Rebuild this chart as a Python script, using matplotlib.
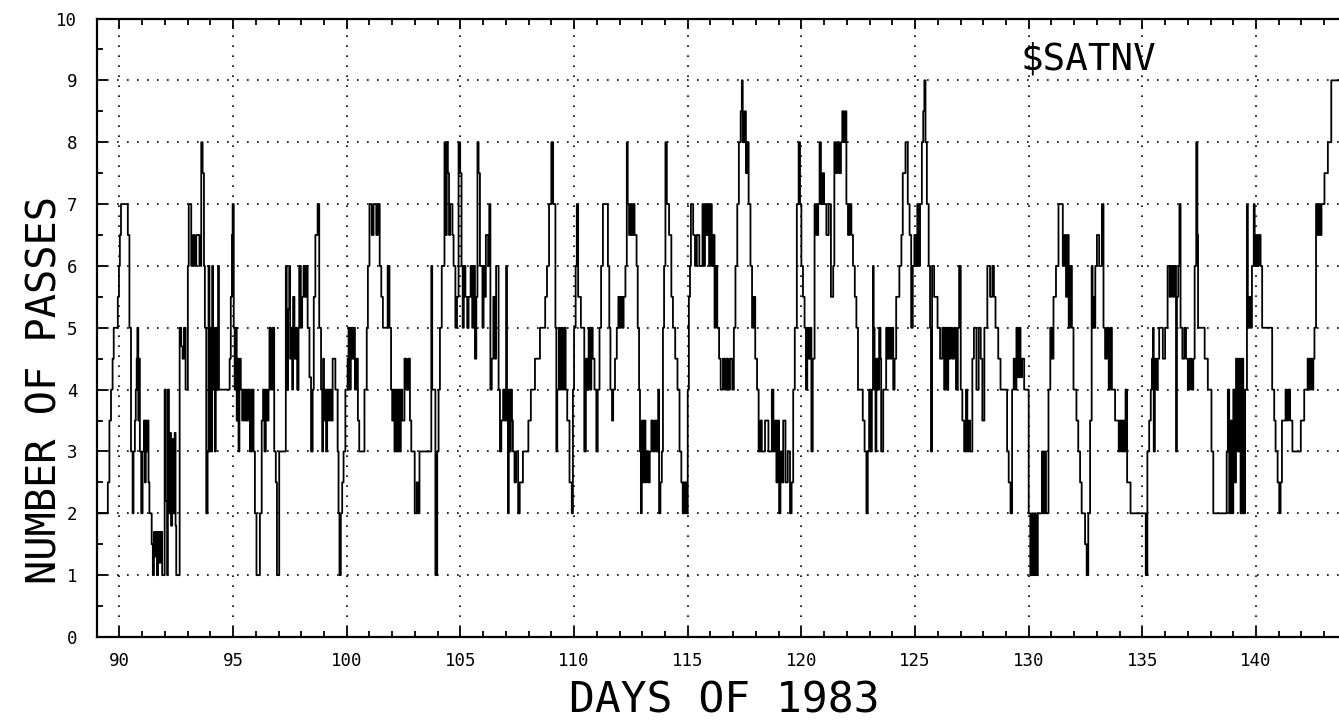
import matplotlib
matplotlib.use("Agg")
import matplotlib.pyplot as plt
from matplotlib.ticker import MultipleLocator

# -----------------------------
# Data (step changes: day of 1983 -> number of passes)
# -----------------------------

day = [
    89.00, 89.49, 89.56, 89.63, 89.70, 89.75, 89.93, 89.98, 90.02, 90.07, 90.37, 90.44, 90.51, 90.58, 90.62,
    90.68, 90.72, 90.76, 90.79, 90.83, 90.86, 90.90, 90.96, 91.02, 91.08, 91.12, 91.16, 91.20, 91.24, 91.28,
    91.32, 91.42, 91.47, 91.52, 91.56, 91.60, 91.65, 91.70, 91.75, 91.80, 91.88, 91.99, 92.04, 92.10, 92.13,
    92.18, 92.22, 92.27, 92.32, 92.38, 92.43, 92.47, 92.50, 92.65, 92.72, 92.78, 92.84, 92.91, 93.01, 93.05,
    93.16, 93.24, 93.30, 93.38, 93.52, 93.60, 93.66, 93.72, 93.76, 93.82, 93.88, 93.92, 93.96, 94.00, 94.04,
    94.08, 94.12, 94.16, 94.20, 94.24, 94.30, 94.34, 94.38, 94.85, 94.90, 94.95, 94.98, 95.03, 95.07, 95.12,
    95.16, 95.20, 95.24, 95.28, 95.34, 95.40, 95.44, 95.50, 95.55, 95.60, 95.66, 95.74, 95.82, 95.90, 95.96,
    96.03, 96.18, 96.26, 96.32, 96.38, 96.44, 96.50, 96.56, 96.60, 96.66, 96.74, 96.81, 96.88, 96.93, 97.03,
    # 97 - 104
    97.32, 97.36, 97.42, 97.47, 97.51, 97.56, 97.60, 97.64, 97.70, 97.76, 97.82, 97.88, 97.91, 97.98, 98.04,
    98.10, 98.16, 98.22, 98.28, 98.36, 98.43, 98.50, 98.55, 98.62, 98.72, 98.79, 98.87, 98.92, 98.96, 99.00,
    99.04, 99.09, 99.14, 99.20, 99.26, 99.32, 99.38, 99.50, 99.60, 99.64, 99.68, 99.74, 99.80, 99.86, 99.94,
    100.04, 100.08, 100.12, 100.18, 100.24, 100.30, 100.36, 100.42, 100.49, 100.55, 100.78, 100.88, 100.93,
    101.00, 101.10, 101.18, 101.30, 101.37, 101.45, 101.52, 101.59, 101.80, 101.88, 101.95, 102.00, 102.05,
    102.10, 102.15, 102.20, 102.26, 102.32, 102.38, 102.44, 102.54, 102.62, 102.70, 102.78, 102.84, 102.99,
    103.08, 103.14, 103.20, 103.72, 103.76, 103.90, 103.98, 104.04,
    # 104 - 112
    104.10, 104.18, 104.30, 104.36, 104.40, 104.45, 104.50, 104.55, 104.65, 104.70, 104.78, 104.85, 104.92,
    104.99, 105.05, 105.10, 105.15, 105.22, 105.30, 105.36, 105.45, 105.52, 105.58, 105.64, 105.70, 105.75,
    105.80, 105.86, 105.97, 106.02, 106.08, 106.12, 106.22, 106.27, 106.32, 106.38, 106.45, 106.52, 106.57,
    106.68, 106.74, 106.80, 106.88, 106.95, 107.01, 107.05, 107.09, 107.13, 107.18, 107.22, 107.27, 107.31,
    107.38, 107.45, 107.54, 107.61, 107.75, 107.99, 108.10, 108.28, 108.50, 108.73, 108.81, 108.90, 109.00,
    109.08, 109.18, 109.22, 109.26, 109.33, 109.38, 109.44, 109.50, 109.56, 109.63, 109.70, 109.80, 109.90,
    109.95, 110.00, 110.07, 110.12, 110.18, 110.30, 110.45, 110.52, 110.58, 110.64, 110.70, 110.76, 110.82,
    110.90, 110.98, 111.04, 111.12, 111.19, 111.27, 111.49, 111.55, 111.60, 111.67, 111.72, 111.80, 111.88,
    111.95, 112.00, 112.06, 112.12, 112.18, 112.26,
    # 112 - 122.5
    112.32, 112.36, 112.42, 112.48, 112.54, 112.60, 112.66, 112.75, 112.80, 112.86, 112.90, 112.94, 112.98,
    113.03, 113.08, 113.14, 113.19, 113.26, 113.33, 113.40, 113.48, 113.55, 113.62, 113.70, 113.74, 113.80,
    113.86, 113.91, 113.96, 114.02, 114.08, 114.18, 114.28, 114.35, 114.45, 114.55, 114.64, 114.72, 114.78,
    114.82, 114.86, 114.90, 114.95, 115.00, 115.05, 115.10, 115.14, 115.24, 115.32, 115.40, 115.51, 115.65,
    115.70, 115.76, 115.82, 115.88, 115.94, 116.00, 116.06, 116.12, 116.18, 116.23, 116.30, 116.38, 116.45,
    116.55, 116.62, 116.70, 116.78, 116.86, 116.96, 117.03, 117.10, 117.18, 117.25, 117.33, 117.38, 117.42,
    117.50, 117.56, 117.62, 117.68, 117.76, 117.83, 117.90, 117.97, 118.05, 118.12, 118.20, 118.26, 118.40,
    118.55, 118.70, 118.77, 118.84, 118.90, 118.96, 119.02, 119.08, 119.14, 119.20, 119.30, 119.40, 119.50,
    119.57, 119.64, 119.71, 119.80, 119.88, 119.94, 120.00, 120.07, 120.14, 120.20, 120.26, 120.32, 120.38,
    120.44, 120.50, 120.58, 120.66, 120.74, 120.80, 120.86, 120.94, 121.00, 121.10, 121.20, 121.30, 121.40,
    121.45, 121.52, 121.58, 121.66, 121.74, 121.80, 121.86, 121.91, 121.98, 122.05, 122.12, 122.20, 122.27,
    122.35, 122.42, 122.49,
    # 122.5 - 132.7
    122.70, 122.78, 122.86, 122.92, 122.98, 123.04, 123.10, 123.15, 123.18, 123.22, 123.26, 123.30, 123.36,
    123.42, 123.48, 123.51, 123.60, 123.73, 123.78, 123.84, 123.90, 123.96, 124.04, 124.10, 124.17, 124.31,
    124.40, 124.46, 124.58, 124.68, 124.76, 124.83, 124.90, 124.97, 125.04, 125.10, 125.16, 125.22, 125.30,
    125.36, 125.41, 125.46, 125.52, 125.60, 125.66, 125.70, 125.75, 125.84, 125.99, 126.10, 126.20, 126.28,
    126.34, 126.40, 126.46, 126.52, 126.57, 126.64, 126.72, 126.80, 126.88, 126.94, 127.01, 127.08, 127.16,
    127.24, 127.30, 127.36, 127.42, 127.52, 127.59, 127.70, 127.80, 127.89, 127.96, 128.05, 128.18, 128.30,
    128.40, 128.47, 128.54, 128.66, 128.76, 129.05, 129.12, 129.20, 129.27, 129.34, 129.40, 129.46, 129.52,
    129.58, 129.64, 129.71, 129.80, 130.00, 130.07, 130.14, 130.20, 130.26, 130.32, 130.40, 130.58, 130.64,
    130.70, 130.76, 130.87, 130.95, 131.02, 131.09, 131.20, 131.31, 131.50, 131.58, 131.64, 131.70, 131.76,
    131.82, 131.90, 131.97, 132.10, 132.18, 132.26, 132.33, 132.48, 132.55, 132.62, 132.70,
    # 132.7 - end
    132.77, 132.81, 132.85, 132.89, 132.93, 133.00, 133.10, 133.22, 133.29, 133.36, 133.44, 133.52, 133.60,
    133.66, 133.80, 133.96, 134.02, 134.08, 134.14, 134.20, 134.26, 134.33, 134.48, 135.15, 135.22, 135.30,
    135.37, 135.42, 135.47, 135.50, 135.55, 135.62, 135.68, 135.74, 135.90, 136.00, 136.11, 136.20, 136.26,
    136.34, 136.40, 136.48, 136.52, 136.58, 136.63, 136.68, 136.76, 136.85, 136.92, 137.00, 137.08, 137.16,
    137.24, 137.30, 137.37, 137.42, 137.45, 137.74, 137.88, 138.04, 138.12, 138.71, 138.76, 138.82, 138.88,
    138.94, 139.00, 139.06, 139.12, 139.20, 139.26, 139.32, 139.38, 139.44, 139.52, 139.60, 139.64, 139.70,
    139.76, 139.82, 139.90, 139.94, 140.00, 140.06, 140.12, 140.20, 140.27, 140.71, 140.80, 140.86, 140.95,
    141.02, 141.08, 141.14, 141.30, 141.36, 141.42, 141.50, 141.60, 141.97, 142.12, 142.27, 142.34, 142.40,
    142.46, 142.52, 142.57, 142.64, 142.70, 142.76, 142.82, 142.88, 143.01, 143.16, 143.31, 143.70,
]

npass = [
    2, 2.5, 3.5, 4, 4.5, 5, 5.5, 6, 6.5, 7, 6.5, 5, 3, 2, 3,
    3.5, 4, 4.5, 5, 3.5, 4.5, 3, 2, 3, 3.5, 2.5, 3.5, 3, 3.5, 2.5,
    2, 1.5, 1, 1.7, 1.3, 1.7, 1, 1.7, 1.2, 1.7, 1, 4, 2.2, 1, 4,
    2, 3.3, 1.8, 3.2, 2, 3.3, 1.8, 1, 5, 4.7, 4.5, 5, 4, 6, 7,
    6, 6.5, 6, 6.5, 6, 8, 7.5, 6, 5, 2, 3, 6, 3, 5, 3,
    6, 4, 5, 3, 5, 4, 6, 4, 4.5, 5.5, 6.5, 7, 5, 4, 5,
    3.5, 4.5, 3, 4.5, 4, 3.5, 4, 3.5, 4, 3.5, 4, 3, 4, 3, 2,
    1, 2, 3.5, 4, 3, 4, 3.5, 4, 5, 4, 5, 3, 2.5, 1, 3,
    # 97 - 104
    6, 4, 5.3, 6, 4.5, 5, 4, 5.5, 4.5, 5, 4, 5, 6, 5, 5.5,
    6, 5.5, 6, 5, 4.2, 3, 4, 5.5, 6.5, 7, 5, 4, 3, 4.5, 3.5,
    4, 3, 4, 3.5, 4, 3.5, 4.5, 4, 3, 2, 1, 2, 2.5, 3, 4,
    4.5, 5, 4, 5, 4.5, 5, 4, 4.5, 3.5, 3, 4, 5, 6,
    7, 6.5, 7, 6.5, 7, 6, 5.5, 5, 6, 5, 4, 3.5, 4,
    3, 4, 3, 4, 3, 4, 3.5, 4.5, 4, 4.5, 3.5, 3, 2,
    2.5, 2, 3, 6, 4, 1, 3, 4,
    # 104 - 112
    5, 6, 8, 6.5, 8, 7.5, 6.5, 7, 6.5, 6, 5, 5.5, 8,
    7.5, 6, 5, 6, 5.5, 5, 5.5, 6, 5, 6, 4.5, 5.5, 8,
    7.5, 6, 5, 6, 5.5, 6.5, 6, 7, 4, 4.5, 5.5, 4.5, 6,
    4, 3, 3.5, 4, 3.5, 6, 3.5, 2, 4, 3, 4, 3.5, 3,
    2.5, 3, 2, 2.5, 3, 3.5, 4, 4.5, 5, 5.5, 6, 7, 8,
    7, 5, 3, 4, 5, 4, 5, 4, 5, 4, 3.5, 2.5, 2,
    4, 5, 6, 7, 5.5, 5, 3, 4.5, 4, 5, 4, 5, 4.5,
    4, 3, 4, 5, 6, 7, 6, 5, 4, 3.5, 4, 4.5, 5,
    5.5, 5, 5.5, 5, 5.5, 6,
    # 112 - 122.5
    8, 7, 6.5, 7, 6.5, 7, 6.5, 6, 5, 4, 3, 2, 3.5,
    2.5, 3.5, 2.5, 3, 2.5, 3, 3.5, 3, 3.5, 3, 4, 2, 2.5,
    3, 5, 6, 8, 7, 6.5, 5.5, 5, 4.5, 4, 3, 2.5, 2,
    2.5, 2, 2.5, 2, 4, 5.5, 6, 7, 6.5, 6, 6.5, 6, 7,
    6, 7, 6.5, 7, 6, 7, 6, 6.5, 5, 6, 5, 4.5, 4,
    4.5, 4, 4.5, 4, 4.5, 4, 5, 6, 7, 8, 8.5, 9, 8,
    8.5, 7.5, 8, 7, 6, 5, 5.5, 4.5, 4, 3, 3.5, 3, 3.5,
    3, 4, 3, 3.5, 2.5, 3.5, 2, 3, 2.5, 3.5, 2.5, 3, 2,
    2.5, 4, 5, 7, 8, 7, 6, 5.5, 5, 4, 5, 4.5, 5,
    3, 4.5, 7, 6.5, 7, 8, 7, 7.5, 7, 6.5, 7, 5.5, 6,
    8, 7.5, 8, 7.5, 8, 8.5, 8, 8.5, 7, 6.5, 7, 6.5, 6,
    5.5, 5, 4,
    # 122.5 - 132.7
    3.5, 3, 2, 3, 4, 3, 4, 6, 5, 4, 3, 4.5, 4,
    5, 4.5, 3, 4, 5, 4.5, 5, 4.5, 5, 4, 4.5, 5.5, 6,
    6.5, 7.5, 8, 7, 6.5, 5, 6, 6.5, 6, 7, 6, 7, 8,
    8.5, 9, 8, 7, 6, 5, 3, 6, 5.5, 5, 4.5, 5, 4,
    5, 4, 5, 4.5, 5, 4.5, 5, 4, 5, 6, 4, 3.5, 3,
    4, 3, 3.5, 3, 4.5, 5, 4, 5, 4.5, 3.5, 5, 6, 5.5,
    6, 5.5, 5, 4.5, 4, 3, 2.5, 2, 4, 4.5, 4, 5, 4.2,
    5, 4.2, 4.5, 4, 2, 1, 2, 1, 2, 1, 2, 3, 2,
    3, 2, 4, 5, 4.5, 5.5, 6, 7, 6, 6.5, 5.5, 6.5, 5,
    6, 5, 4, 3.5, 3, 2.5, 2, 1.5, 1, 2, 3.5,
    # 132.7 - end
    6, 5, 5.5, 5, 6, 6.5, 6, 7, 5, 4.5, 5, 4, 5,
    4, 3.5, 3, 3.5, 3, 3.5, 3, 4, 2.5, 2, 1, 3, 3.5,
    4, 4.5, 5, 3, 4.5, 4, 4.5, 5, 4.5, 5, 6, 5.5, 6,
    5.5, 6, 3, 5.5, 6, 7, 5, 4.5, 5, 4.5, 4, 4.5, 4,
    4.5, 6, 8, 6.5, 5, 4.5, 4, 3, 2, 3, 4, 2, 3.5,
    2, 4, 2.5, 4.5, 3, 4.5, 2, 4.5, 2, 4, 7, 5, 5.5,
    5, 6, 7, 6, 6.5, 6, 6.5, 6, 5, 4, 3.5, 3, 2.5,
    2, 2.5, 3.5, 4, 3.5, 4, 3.5, 3, 3.5, 4, 4.5, 4, 4.5,
    4, 4.5, 5, 7, 6.5, 7, 6.5, 7, 7.5, 8, 9, 9,
]

x_ticks = list(range(90, 145, 5))
y_ticks = list(range(0, 11))

mono = "DejaVu Sans Mono"

# -----------------------------
# Plot
# -----------------------------

fig = plt.figure(figsize=(13.39, 7.21), dpi=100)
ax = fig.add_axes([0.0722, 0.1165, 0.9278, 0.8578])

ax.step(day, npass, where="post", color="black", linewidth=1.3, zorder=3)

ax.set_xlim(89, 143.65)
ax.set_ylim(0, 10)

ax.set_xticks(x_ticks)
ax.set_yticks(y_ticks)
ax.xaxis.set_minor_locator(MultipleLocator(1))
ax.yaxis.set_minor_locator(MultipleLocator(0.5))

ax.grid(True, which="major", color="black", linestyle=(0, (1, 5)), linewidth=1.2)

for side in ["left", "bottom", "top"]:
    ax.spines[side].set_linewidth(1.6)
ax.spines["right"].set_visible(False)

ax.tick_params(which="both", direction="in", top=True, right=False, width=1.3)
ax.tick_params(which="major", length=7)
ax.tick_params(which="minor", length=4)
ax.tick_params(axis="x", pad=11, labelsize=12.5)
ax.tick_params(axis="y", pad=14, labelsize=12.5)
for lbl in ax.get_xticklabels() + ax.get_yticklabels():
    lbl.set_fontfamily(mono)

fig.text(0.762, 0.917, r"\$SATNV", fontsize=27, fontfamily=mono, ha="left", va="center")
fig.text(0.034, 0.459, "NUMBER OF PASSES", fontsize=29, fontfamily=mono,
         rotation=90, ha="center", va="center")
fig.text(0.541, 0.029, "DAYS OF 1983", fontsize=31, fontfamily=mono, ha="center", va="center")

fig.savefig("out.png", dpi=100)
